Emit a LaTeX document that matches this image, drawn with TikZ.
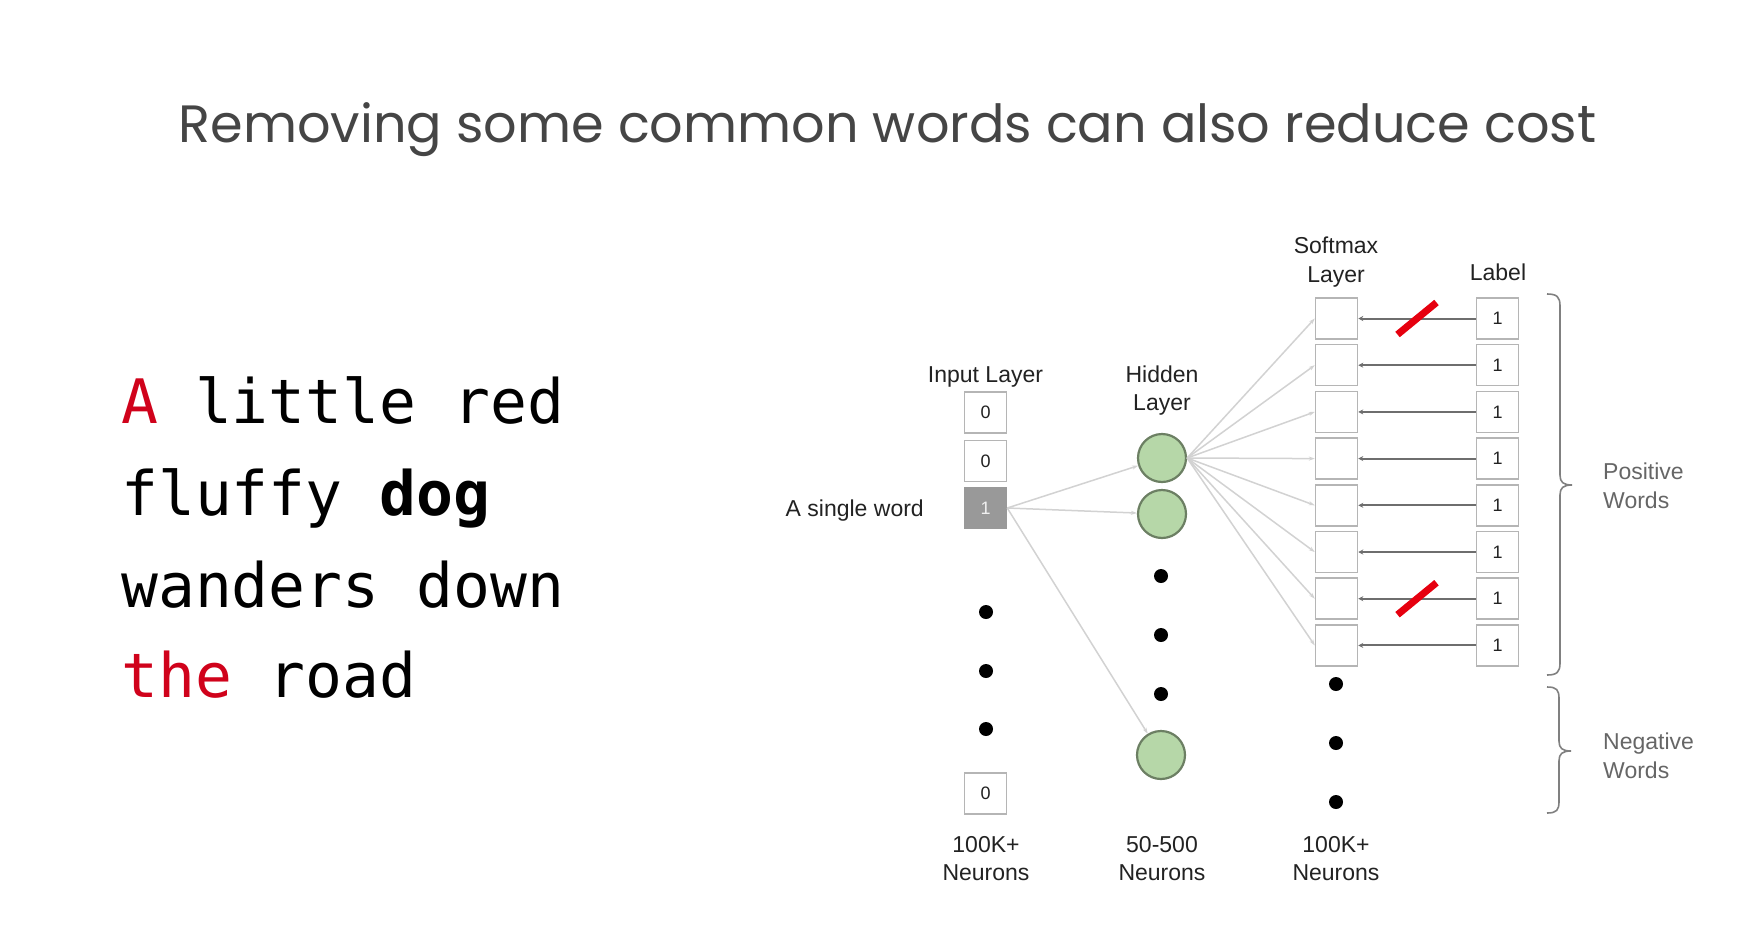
\documentclass[tikz,border=0pt]{standalone}
\usepackage{fontspec}
\setmainfont{Liberation Sans}
\newfontfamily\titlefont{Poppins}
\newfontfamily\codefont{DejaVu Sans Mono}
\usetikzlibrary{arrows.meta}

\definecolor{titlegray}{HTML}{454545}
\definecolor{labelink}{HTML}{222222}
\definecolor{boxline}{HTML}{B5B5B5}
\definecolor{boxfill}{HTML}{999999}
\definecolor{edgegray}{HTML}{D2D2D2}
\definecolor{linkgray}{HTML}{6E6E6E}
\definecolor{cellgreen}{HTML}{B6D7A8}
\definecolor{cellrim}{HTML}{6C7F63}
\definecolor{cutred}{HTML}{E6000F}
\definecolor{wordred}{HTML}{D0021B}
\definecolor{bracegray}{HTML}{808080}
\definecolor{sidegray}{HTML}{666666}

\tikzset{
  cell/.style={draw=boxline, line width=1.5bp, minimum width=42bp, minimum height=41bp,
    inner sep=0pt, text=labelink, font=\fontsize{18bp}{20bp}\selectfont},
  hotcell/.style={cell, fill=boxfill, draw=boxfill, text=white!88!gray},
  neuron/.style={circle, draw=cellrim, line width=2.2bp, fill=cellgreen, minimum size=48bp, inner sep=0pt},
  ellip/.style={circle, fill=black, minimum size=14bp, inner sep=0pt},
  lbl/.style={anchor=base, text=labelink, font=\fontsize{23bp}{28bp}\selectfont, inner sep=0pt},
  sidelbl/.style={anchor=base west, text=sidegray, font=\fontsize{23bp}{28bp}\selectfont, inner sep=0pt},
  codeline/.style={anchor=base west, inner sep=0pt, font=\codefont\fontsize{61.3bp}{92bp}\selectfont},
  feed/.style={draw=edgegray, line width=1.5bp, -{Stealth[length=6bp,width=4bp]}},
  target/.style={draw=linkgray, line width=2bp, -{Stealth[length=5bp,width=5bp]}},
  cut/.style={draw=cutred, line width=7bp},
  brace/.style={draw=bracegray, line width=1.6bp},
}

\begin{document}
\begin{tikzpicture}[x=1bp, y=-1bp]
\useasboundingbox[fill=white] (0,0) rectangle (1743,946);

% heading
\node[anchor=base, inner sep=0pt, text=titlegray, font=\titlefont\fontsize{52.5bp}{60bp}\selectfont]
  (title) at (887.5,142) {Removing some common words can also reduce cost};

% sentence
\node[codeline] (s1) at (121,423) {\textcolor{wordred}{A} little red};
\node[codeline] (s2) at (121,515) {fluffy \textbf{dog}};
\node[codeline] (s3) at (121,607) {wanders down};
\node[codeline] (s4) at (121,697) {\textcolor{wordred}{the} road};

% input layer
\node[lbl] (inlab) at (985.5,382) {Input Layer};
\node[cell] (in1) at (985.5,412.5) {0};
\node[cell] (in2) at (985.5,461) {0};
\node[hotcell] (in3) at (985.5,508) {1};
\node[ellip] (ind1) at (986,612) {};
\node[ellip] (ind2) at (986,671) {};
\node[ellip] (ind3) at (986,729) {};
\node[cell] (in4) at (985.5,793.5) {0};
\node[anchor=base east, inner sep=0pt, text=labelink, font=\fontsize{23bp}{28bp}\selectfont]
  (word) at (924,516) {A single word};
\node[lbl] (inc1) at (986,852) {100K+};
\node[lbl] (inc2) at (986,880) {Neurons};

% hidden layer
\node[lbl] (hidlab1) at (1162,382) {Hidden};
\node[lbl] (hidlab2) at (1162,410) {Layer};
\node[neuron] (h1) at (1162,458) {};
\node[neuron] (h2) at (1162,514) {};
\node[ellip] (hd1) at (1161,576) {};
\node[ellip] (hd2) at (1161,635) {};
\node[ellip] (hd3) at (1161,694) {};
\node[neuron] (h3) at (1161,755) {};
\node[lbl] (hic1) at (1162,852) {50-500};
\node[lbl] (hic2) at (1162,880) {Neurons};

% softmax layer and labels
\node[lbl] (smlab1) at (1336,253) {Softmax};
\node[lbl] (smlab2) at (1336,282) {Layer};
\node[lbl] (lablab) at (1498,280) {Label};
\foreach \i in {1,...,8} {
  \node[cell] (o\i) at (1336.5,{318.5+46.7*(\i-1)}) {};
  \node[cell] (l\i) at (1497.5,{318.5+46.7*(\i-1)}) {1};
}
\node[ellip] (od1) at (1336,684) {};
\node[ellip] (od2) at (1336,743) {};
\node[ellip] (od3) at (1336,802) {};
\node[lbl] (occ1) at (1336,852) {100K+};
\node[lbl] (occ2) at (1336,880) {Neurons};

% connections
\foreach \h in {h1,h2,h3} \draw[feed] (in3.east) -- (\h);
\foreach \i in {1,...,8} \draw[feed] (h1.east) -- (o\i.west);
\foreach \i in {1,...,8} \draw[target] (l\i.west) -- coordinate[pos=0.5] (m\i) (o\i.east);

% removed targets
\draw[cut] (m1) ++(-19.5,16) -- ++(39,-32);
\draw[cut] (m7) ++(-19.5,16) -- ++(39,-32);

% braces
\draw[brace] (1547,294) .. controls (1557,294) and (1560,297) .. (1560,306) -- (1560,475)
  .. controls (1560,482) and (1563,485) .. (1572,485)
  .. controls (1563,485) and (1560,488) .. (1560,495) -- (1560,663)
  .. controls (1560,672) and (1557,675) .. (1547,675);
\draw[brace] (1547,687) .. controls (1557,687) and (1559,690) .. (1559,699) -- (1559,741)
  .. controls (1559,748) and (1562,751) .. (1571,751)
  .. controls (1562,751) and (1559,754) .. (1559,761) -- (1559,801)
  .. controls (1559,810) and (1557,813) .. (1547,813);
\node[sidelbl] (pos1) at (1603,479) {Positive};
\node[sidelbl] (pos2) at (1603,508) {Words};
\node[sidelbl] (neg1) at (1603,749) {Negative};
\node[sidelbl] (neg2) at (1603,778) {Words};
\end{tikzpicture}
\end{document}
